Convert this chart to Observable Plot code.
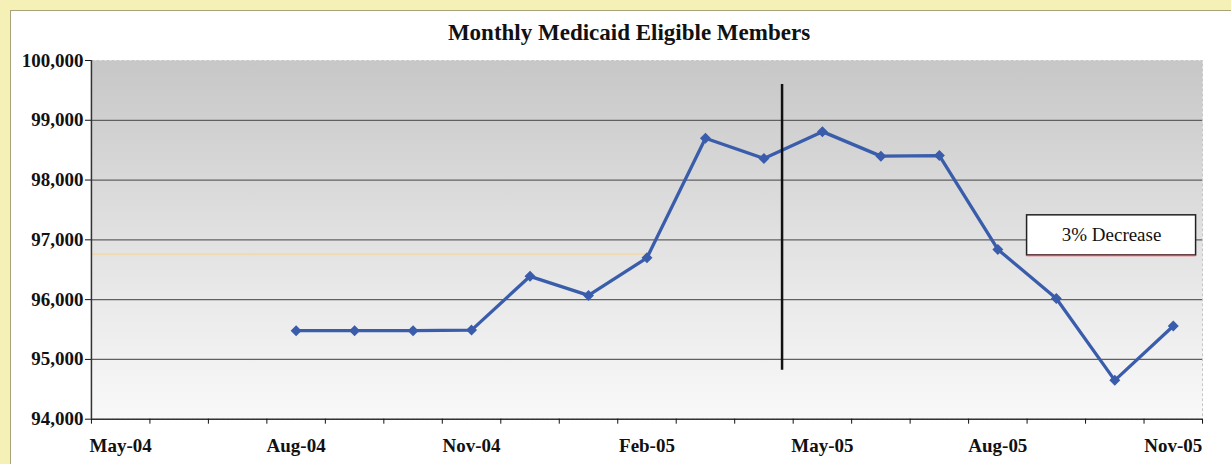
<!DOCTYPE html>
<html><head><meta charset="utf-8">
<script src="https://cdn.jsdelivr.net/npm/d3@7"></script>
<script src="https://cdn.jsdelivr.net/npm/@observablehq/plot@0.6"></script>
<style>
html,body{margin:0;padding:0;background:#f4f0b6;width:1231px;height:464px;overflow:hidden}
#panel{position:absolute;left:10px;top:10px;width:1221px;height:454px;background:#fff;border-top:1px solid #a9a27c;border-left:1px solid #a9a27c;box-sizing:border-box}
#title{height:39px;font:bold 23px "Liberation Serif",serif;line-height:44px;text-align:center;padding-left:16px;color:#111}
svg{display:block}
</style></head>
<body>
<div id="panel"><div id="title">Monthly Medicaid Eligible Members</div><div id="chart"></div></div>
<script>
// Month categories (x axis)
const months = ["May-04","Jun-04","Jul-04","Aug-04","Sep-04","Oct-04","Nov-04","Dec-04","Jan-05","Feb-05","Mar-05","Apr-05","May-05","Jun-05","Jul-05","Aug-05","Sep-05","Oct-05","Nov-05"];
// Eligible members per month (null = no data)
const members = [null,null,null,95480,95480,95480,95490,96390,96070,96700,98700,98360,98810,98400,98410,96840,96020,94650,95560];
// Axis tick values / labels
const yTicks = [94000,95000,96000,97000,98000,99000,100000];
const xLabelMonths = ["May-04","Aug-04","Nov-04","Feb-05","May-05","Aug-05","Nov-05"];
// Annotations
const dividerMonth = "Apr-05", dividerFraction = 0.81, dividerRange = [94820, 99600];
const referenceLevel = 96760, referenceEndMonth = "Feb-05";
const noteText = "3% Decrease", noteMonths = ["Sep-05","Nov-05"], noteFractions = [0.0, 0.89], noteRange = [96740, 97410];

const data = months.map((m, i) => ({m, x: i + 0.5, v: members[i]})).filter(d => d.v != null);
const idx = m => months.indexOf(m);
const divider = [{x: idx(dividerMonth) + dividerFraction, y1: dividerRange[0], y2: dividerRange[1]}];
const note = [{x1: idx(noteMonths[0]) + noteFractions[0], x2: idx(noteMonths[1]) + noteFractions[1], y1: noteRange[0], y2: noteRange[1], label: noteText}];
const blue = "#3a5dab";

const chart = Plot.plot({
  width: 1221, height: 414,
  marginTop: 10, marginBottom: 45, marginLeft: 80, marginRight: 29,
  style: {fontFamily: "Liberation Serif, serif", fontSize: "19px", fontWeight: "bold", color: "#111", background: "transparent"},
  x: {type: "linear", domain: [0, months.length]},
  y: {domain: [94000, 100000]},
  marks: [
    Plot.frame({fill: "url(#bgGrad)", stroke: "#c8c8c8", strokeDasharray: "3,2"}),
    Plot.ruleY(yTicks.filter(d => d > 94000 && d < 100000), {stroke: "#606060", strokeWidth: 1.3}),
    Plot.ruleY([referenceLevel], {x1: 0, x2: idx(referenceEndMonth) + 0.5, stroke: "#f1d9b0", strokeWidth: 2}),
    Plot.ruleX([0], {stroke: "#333", strokeWidth: 1.5}),
    Plot.ruleY([94000], {stroke: "#333", strokeWidth: 1.5}),
    Plot.axisY({ticks: yTicks, tickFormat: d3.format(","), tickSize: 6, tickPadding: 2, fontSize: 19}),
    Plot.axisX({ticks: d3.range(months.length + 1), tickFormat: () => "", tickSize: 5}),
    Plot.axisX({ticks: xLabelMonths.map(m => idx(m) + 0.5), tickFormat: x => months[Math.round(x - 0.5)], tickSize: 0, tickPadding: 19, fontSize: 19}),
    Plot.line(data, {x: "x", y: "v", stroke: blue, strokeWidth: 3.3}),
    Plot.dot(data, {x: "x", y: "v", symbol: "diamond2", r: 4, fill: blue, stroke: blue}),
    Plot.ruleX(divider, {x: "x", y1: "y1", y2: "y2", stroke: "#111", strokeWidth: 2.5}),
    Plot.rect(note, {x1: "x1", x2: "x2", y1: "y1", y2: "y2", fill: "white", stroke: "#222", strokeWidth: 1.5}),
    Plot.ruleY(note, {x1: "x1", x2: "x2", y: "y1", stroke: "#e0484f", strokeWidth: 1.5}),
    Plot.text(note, {x: d => (d.x1 + d.x2) / 2, y: d => (d.y1 + d.y2) / 2, text: "label", fontSize: 19, fontWeight: "normal", fill: "#111"})
  ]
});
const defs = d3.create("svg:defs");
const g = defs.append("linearGradient").attr("id", "bgGrad").attr("x1", 0).attr("y1", 0).attr("x2", 0).attr("y2", 1);
g.append("stop").attr("offset", "0%").attr("stop-color", "#c7c7c7");
g.append("stop").attr("offset", "55%").attr("stop-color", "#e4e4e4");
g.append("stop").attr("offset", "100%").attr("stop-color", "#f9f9f9");
chart.insertBefore(defs.node(), chart.firstChild);
document.getElementById("chart").appendChild(chart);
</script>
</body></html>
